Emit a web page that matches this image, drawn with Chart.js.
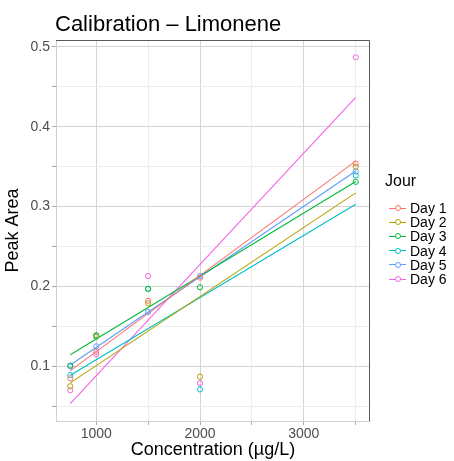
<!DOCTYPE html>
<html>
<head>
<meta charset="utf-8">
<script src="https://cdn.jsdelivr.net/npm/chart.js@4"></script>
<style>
html, body { margin: 0; padding: 0; background: #fff; }
#wrap { position: relative; width: 454px; height: 461px; font-family: "Liberation Sans", Arial, sans-serif; }
#chart { position: absolute; left: 0; top: 0; }
#title { position: absolute; left: 55px; top: 11px; font-size: 22px; line-height: 26px; color: #000; white-space: nowrap; }
#legendTitle { position: absolute; left: 385px; top: 172px; font-size: 16px; line-height: 18px; color: #000; }
#legend { position: absolute; left: 389px; top: 201px; }
.item { display: flex; align-items: center; height: 14.2px; font-size: 14px; color: #000; white-space: nowrap; }
.key { position: relative; width: 17px; height: 14px; margin-right: 4px; }
.key .ln { position: absolute; left: 0; right: 0; top: 6.5px; height: 1px; }
.key .pt { position: absolute; left: 6px; top: 4px; width: 4px; height: 4px; border-radius: 50%; border: 1px solid; background: #fff; }
</style>
</head>
<body>
<div id="wrap">
  <canvas id="chart" width="454" height="461"></canvas>
  <div id="title">Calibration – Limonene</div>
  <div id="legendTitle">Jour</div>
  <div id="legend"></div>
</div>
<script>
// Données
const concentrations = [750, 1000, 1500, 2000, 3500];
const dayLabels = ['Day 1', 'Day 2', 'Day 3', 'Day 4', 'Day 5', 'Day 6'];
const day1 = [0.085, 0.118, 0.182, 0.211, 0.354];
const day2 = [0.075, 0.138, 0.179, 0.087, 0.350];
const day3 = [0.101, 0.139, 0.197, 0.199, 0.331];
const day4 = [0.089, 0.137, 0.197, 0.071, 0.339];
const day5 = [0.100, 0.125, 0.168, 0.213, 0.344];
const day6 = [0.070, 0.115, 0.213, 0.079, 0.487];
const dayColors = ['#F8766D', '#B79F00', '#00BA38', '#00BFC4', '#619CFF', '#F564E3'];
const xTicks = [1000, 1500, 2000, 2500, 3000, 3500];
const yTicks = [0.05, 0.1, 0.15, 0.2, 0.25, 0.3, 0.35, 0.4, 0.45, 0.5];

const allDays = [day1, day2, day3, day4, day5, day6];

// Droite de régression (comme geom_smooth(method = "lm"))
function fitLine(xs, ys) {
    const n = xs.length;
    const mx = xs.reduce((a, b) => a + b, 0) / n;
    const my = ys.reduce((a, b) => a + b, 0) / n;
    let sxy = 0, sxx = 0;
    for (let i = 0; i < n; i++) {
        sxy += (xs[i] - mx) * (ys[i] - my);
        sxx += (xs[i] - mx) * (xs[i] - mx);
    }
    const b = sxy / sxx;
    const a = my - b * mx;
    const x0 = Math.min(...xs), x1 = Math.max(...xs);
    return [{ x: x0, y: a + b * x0 }, { x: x1, y: a + b * x1 }];
}

const datasets = [];
allDays.forEach((vals, i) => {
    datasets.push({
        label: dayLabels[i],
        data: concentrations.map((c, j) => ({ x: c, y: vals[j] })),
        showLine: false,
        pointRadius: 2.6,
        pointBorderWidth: 1,
        pointBorderColor: dayColors[i],
        pointBackgroundColor: 'rgba(0,0,0,0)',
        order: 0
    });
    datasets.push({
        label: dayLabels[i] + ' fit',
        data: fitLine(concentrations, vals),
        showLine: true,
        borderColor: dayColors[i],
        borderWidth: 1.1,
        pointRadius: 0,
        order: 1
    });
});

// Bordure du panneau (haut et droite)
const panelBorder = {
    id: 'panelBorder',
    afterDatasetsDraw(chart) {
        const { ctx, chartArea: a } = chart;
        ctx.save();
        ctx.strokeStyle = '#595959';
        ctx.lineWidth = 1;
        ctx.beginPath();
        ctx.moveTo(a.left, a.top + 0.5);
        ctx.lineTo(a.right - 0.5, a.top + 0.5);
        ctx.lineTo(a.right - 0.5, a.bottom);
        ctx.stroke();
        ctx.restore();
    }
};

const isMajorX = v => v % 1000 === 0;
const isMajorY = v => Math.round(v * 100) % 10 === 0;

new Chart(document.getElementById('chart'), {
    type: 'scatter',
    data: { datasets: datasets },
    options: {
        responsive: false,
        animation: false,
        devicePixelRatio: 1,
        layout: { padding: { top: 40, right: 84, left: 0, bottom: 0 } },
        plugins: { legend: { display: false }, tooltip: { enabled: false } },
        scales: {
            x: {
                type: 'linear',
                min: 612.5,
                max: 3637.5,
                afterBuildTicks: s => { s.ticks = xTicks.map(v => ({ value: v })); },
                afterFit: s => { s.height = 40; },
                ticks: {
                    autoSkip: false, maxRotation: 0, padding: 1,
                    color: '#4D4D4D',
                    font: { family: '"Liberation Sans", Arial, sans-serif', size: 14 },
                    callback: v => isMajorX(v) ? String(v) : ''
                },
                grid: {
                    color: c => c.tick && isMajorX(c.tick.value) ? '#D4D4D4' : '#EDEDED',
                    tickColor: '#AAAAAA',
                    tickLength: 4
                },
                border: { display: true, color: '#D0D0D0' },
                title: {
                    display: true, text: 'Concentration (µg/L)', color: '#000',
                    font: { family: '"Liberation Sans", Arial, sans-serif', size: 18 },
                    padding: { top: 0, bottom: 0 }
                }
            },
            y: {
                min: 0.0315,
                max: 0.5087,
                afterBuildTicks: s => { s.ticks = yTicks.map(v => ({ value: v })); },
                afterFit: s => { s.width = 56; },
                ticks: {
                    padding: 2,
                    color: '#4D4D4D',
                    font: { family: '"Liberation Sans", Arial, sans-serif', size: 14 },
                    callback: v => isMajorY(v) ? v.toFixed(1) : ''
                },
                grid: {
                    color: c => c.tick && isMajorY(c.tick.value) ? '#D4D4D4' : '#EDEDED',
                    tickColor: '#AAAAAA',
                    tickLength: 4
                },
                border: { display: true, color: '#D0D0D0' },
                title: {
                    display: true, text: 'Peak Area', color: '#000',
                    font: { family: '"Liberation Sans", Arial, sans-serif', size: 18 },
                    padding: { top: 2, bottom: 0 }
                }
            }
        }
    },
    plugins: [panelBorder]
});

// Légende HTML
const legend = document.getElementById('legend');
dayLabels.forEach((lab, i) => {
    const row = document.createElement('div');
    row.className = 'item';
    row.innerHTML = `<span class="key"><span class="ln" style="background:${dayColors[i]}"></span>` +
        `<span class="pt" style="border-color:${dayColors[i]}"></span></span><span>${lab}</span>`;
    legend.appendChild(row);
});
</script>
</body>
</html>
